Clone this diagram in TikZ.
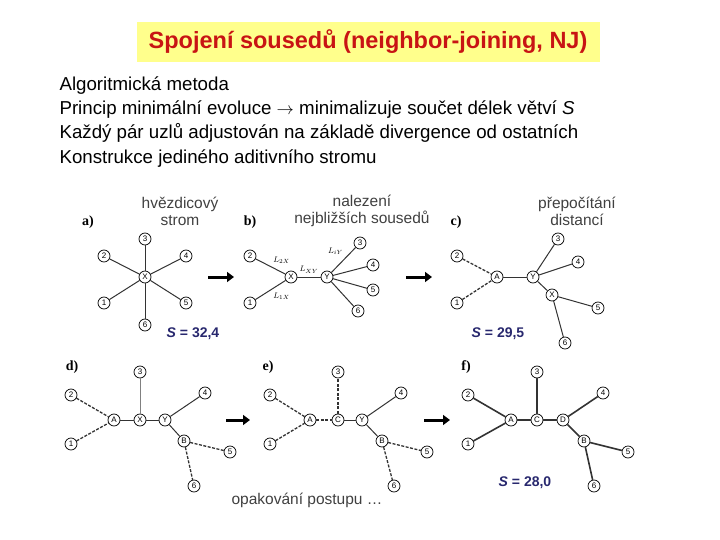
\documentclass[tikz,border=0pt]{standalone}
\usepackage{fontspec}
\setmainfont{Liberation Sans}
\newfontfamily\panelfont{Liberation Serif}
\usetikzlibrary{arrows.meta}
\definecolor{titlebg}{RGB}{255,255,140}
\definecolor{titlered}{RGB}{200,20,20}
\definecolor{snavy}{RGB}{40,40,110}
\tikzset{
  vx/.style={circle, draw, fill=white, inner sep=0pt, minimum size=12pt, line width=0.7pt, font=\fontsize{8}{8}\selectfont},
  br/.style={draw=black!80, line width=1pt},
  dbr/.style={draw=black!80, line width=1.3pt, dash pattern=on 3pt off 1.5pt},
  step arrow/.style={-{Triangle[length=7pt,width=10pt]}, line width=3pt},
  plabel/.style={font=\panelfont\bfseries\fontsize{14}{14}\selectfont},
  head/.style={align=center, font=\fontsize{15.5}{17}\selectfont, text=black!75},
  sval/.style={font=\bfseries\fontsize{14}{14}\selectfont, text=snavy}
}
\begin{document}
\begin{tikzpicture}[x=1pt, y=-1pt]
\useasboundingbox (0,0) rectangle (720,540);
% title
\node[fill=titlebg, minimum width=463pt, minimum height=40pt, text=titlered,
  font=\bfseries\fontsize{23.5}{25}\selectfont] (title) at (368,42) {Spojení sousedů (neighbor-joining, NJ)};
\node[anchor=north west, align=left, font=\fontsize{18.7}{24.3}\selectfont] (text) at (56,73)
  {Algoritmická metoda\\
   Princip minimální evoluce $\rightarrow$ minimalizuje součet délek větví \textit{S}\\
   Každý pár uzlů adjustován na základě divergence od ostatních\\
   Konstrukce jediného aditivního stromu};
% headings
\node[head] (ha) at (180,211) {hvězdicový\\strom};
\node[head] (hb) at (362,211) {nalezení\\nejbližších sousedů};
\node[head] (hc) at (577,211) {přepočítání\\distancí};
% a) star tree
\node[plabel] (la) at (88,222) {a)};
\node[vx] (aX) at (145,277) {X};
\node[vx] (a3) at (145,239) {3};
\node[vx] (a2) at (104,256) {2};
\node[vx] (a4) at (186,256) {4};
\node[vx] (a1) at (104,303) {1};
\node[vx] (a5) at (186,303) {5};
\node[vx] (a6) at (145,325) {6};
\foreach \i in {1,...,6} \draw[br] (aX) -- (a\i);
\node[sval] (sa) at (193,334) {\textit{S} = 32,4};
\coordinate (ar1s) at (208,277); \coordinate (ar1e) at (234,277);
\draw[step arrow] (ar1s) -- (ar1e);
% b) neighbours
\node[plabel] (lb) at (250,222) {b)};
\node[vx] (bX) at (291,277) {X};
\node[vx] (bY) at (327,277) {Y};
\node[vx] (b2) at (250,256) {2};
\node[vx] (b1) at (250,303) {1};
\node[vx] (b3) at (360,243) {3};
\node[vx] (b4) at (373,265) {4};
\node[vx] (b5) at (373,290) {5};
\node[vx] (b6) at (358,311) {6};
\draw[br] (b2) -- node[above right=-1pt, font=\fontsize{8}{8}\selectfont] {$L_{2X}$} (bX);
\draw[br] (b1) -- node[below right=-1pt, font=\fontsize{8}{8}\selectfont] {$L_{1X}$} (bX);
\draw[br] (bX) -- node[above, font=\fontsize{8}{8}\selectfont] {$L_{XY}$} (bY);
\draw[br] (bY) -- node[above left=-1pt, pos=0.6, font=\fontsize{8}{8}\selectfont] {$L_{iY}$} (b3);
\foreach \i in {4,5,6} \draw[br] (bY) -- (b\i);
\coordinate (ar2s) at (406,277); \coordinate (ar2e) at (432,277);
\draw[step arrow] (ar2s) -- (ar2e);
% c) recomputed
\node[plabel] (lc) at (456,222) {c)};
\node[vx] (cA) at (497,277) {A};
\node[vx] (cY) at (533,277) {Y};
\node[vx] (cX) at (552,295) {X};
\node[vx] (c2) at (457,256) {2};
\node[vx] (c1) at (457,303) {1};
\node[vx] (c3) at (558,239) {3};
\node[vx] (c4) at (578,262) {4};
\node[vx] (c5) at (598,308) {5};
\node[vx] (c6) at (565,343) {6};
\draw[dbr] (c2) -- (cA);
\draw[dbr] (c1) -- (cA);
\draw[br] (cA) -- (cY);
\draw[br] (cY) -- (c3);
\draw[br] (cY) -- (c4);
\draw[br] (cY) -- (cX);
\draw[br] (cX) -- (c5);
\draw[br] (cX) -- (c6);
\node[sval] (sc) at (498,334) {\textit{S} = 29,5};
% d)
\node[plabel] (ld) at (72,367) {d)};
\node[vx] (dA) at (114,420) {A};
\node[vx] (dX) at (140,420) {X};
\node[vx] (dY) at (165,420) {Y};
\node[vx] (dB) at (184,441) {B};
\node[vx] (d2) at (71,395) {2};
\node[vx] (d1) at (71,444) {1};
\node[vx] (d3) at (140,372) {3};
\node[vx] (d4) at (205,393) {4};
\node[vx] (d5) at (230,452) {5};
\node[vx] (d6) at (194,486) {6};
\draw[dbr] (d2) -- (dA);
\draw[dbr] (d1) -- (dA);
\draw[br] (dA) -- (dX);
\draw[br, draw=black!50] (dX) -- (d3);
\draw[br] (dX) -- (dY);
\draw[br] (dY) -- (d4);
\draw[br] (dY) -- (dB);
\draw[dbr] (dB) -- (d5);
\draw[dbr] (dB) -- (d6);
\coordinate (ar3s) at (226,420); \coordinate (ar3e) at (250,420);
\draw[step arrow] (ar3s) -- (ar3e);
% e)
\node[plabel] (le) at (268,367) {e)};
\node[vx] (eA) at (310,420) {A};
\node[vx] (eC) at (338,420) {C};
\node[vx] (eY) at (362,420) {Y};
\node[vx] (eB) at (382,441) {B};
\node[vx] (e2) at (270,395) {2};
\node[vx] (e1) at (270,444) {1};
\node[vx] (e3) at (338,372) {3};
\node[vx] (e4) at (401,393) {4};
\node[vx] (e5) at (427,452) {5};
\node[vx] (e6) at (394,486) {6};
\draw[dbr] (e2) -- (eA);
\draw[dbr] (e1) -- (eA);
\draw[dbr] (eA) -- (eC);
\draw[dbr] (eC) -- (e3);
\draw[br] (eC) -- (eY);
\draw[br] (eY) -- (e4);
\draw[br] (eY) -- (eB);
\draw[dbr] (eB) -- (e5);
\draw[dbr] (eB) -- (e6);
\node[font=\fontsize{15.5}{16}\selectfont, text=black!75] (rep) at (307,500) {opakování postupu \dots};
\coordinate (ar4s) at (424,420); \coordinate (ar4e) at (450,420);
\draw[step arrow] (ar4s) -- (ar4e);
% f)
\node[plabel] (lf) at (466,367) {f)};
\node[vx] (fA) at (511,420) {A};
\node[vx] (fC) at (537,420) {C};
\node[vx] (fD) at (563,420) {D};
\node[vx] (fB) at (584,441) {B};
\node[vx] (f2) at (468,395) {2};
\node[vx] (f1) at (468,444) {1};
\node[vx] (f3) at (537,372) {3};
\node[vx] (f4) at (603,393) {4};
\node[vx] (f5) at (628,452) {5};
\node[vx] (f6) at (594,486) {6};
\foreach \a/\b in {f2/fA, f1/fA, fA/fC, fC/f3, fC/fD, fD/f4, fD/fB, fB/f5, fB/f6}
  \draw[br, line width=1.6pt] (\a) -- (\b);
\node[sval] (sf) at (525,483) {\textit{S} = 28,0};
\end{tikzpicture}
\end{document}
